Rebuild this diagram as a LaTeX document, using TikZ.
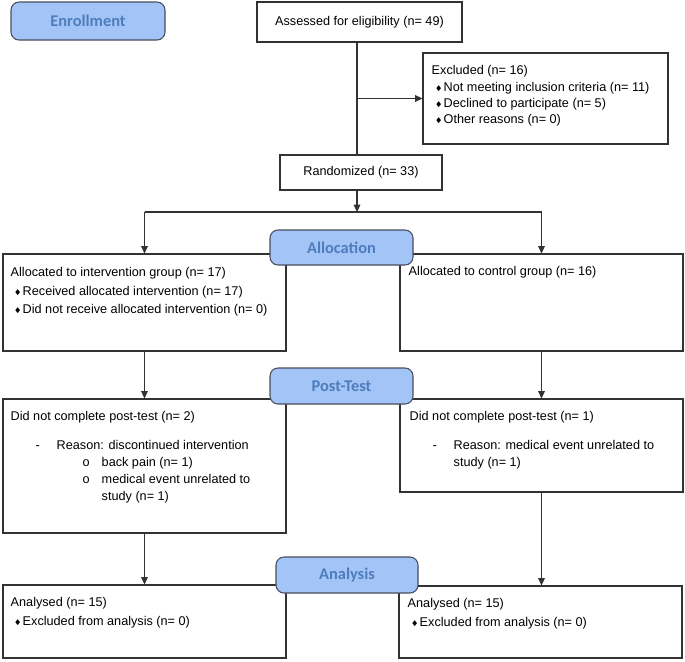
\documentclass[tikz,border=0pt]{standalone}
\usepackage{amssymb}
\usepackage{fontspec}
\setmainfont{Liberation Sans}
\newfontfamily\stagefont{Carlito}
\usetikzlibrary{arrows.meta,positioning,calc,fit}
\definecolor{stagefill}{RGB}{163,196,247}
\definecolor{stagetext}{RGB}{79,125,188}
\definecolor{stageedge}{RGB}{72,78,92}
\definecolor{boxedge}{RGB}{50,50,50}
\newcommand{\dia}{\raisebox{0.8pt}{\fontsize{5}{5}\selectfont$\blacklozenge$}}
\newcommand{\itm}[1]{\hspace*{3pt}\makebox[6pt][l]{\dia}#1}

\begin{document}
\begin{tikzpicture}[x=0.75pt, y=-0.75pt,
    box/.style={draw=boxedge, line width=0.8pt, inner sep=0pt,
                font=\fontsize{9.5}{13}\selectfont},
    stage/.style={draw=stageedge, fill=stagefill, rounded corners=6pt,
                  line width=0.8pt, inner sep=0pt, text=stagetext,
                  font=\stagefont\bfseries\fontsize{12.3}{14}\selectfont},
    txt/.style={anchor=north west, align=left, inner sep=0pt,
                font=\fontsize{9.5}{13.9}\selectfont},
    link/.style={draw=boxedge, line width=0.8pt},
    arr/.style={link, -{Triangle[length=5.5pt,width=5pt]}}]
    \useasboundingbox (0,0) rectangle (685,661);
    % boxes
    \node[box, minimum width=153.75pt, minimum height=30pt] (assess)
        at (359.5,22) {Assessed for eligibility (n= 49)};
    \node[box, fit={(423,53) (668,144)}] (excl) {};
    \node[box, minimum width=121.5pt, minimum height=26.25pt] (rand)
        at (361,172.5) {Randomized (n= 33)};
    \node[box, fit={(3,254) (286,351)}] (int) {};
    \node[box, fit={(400,254) (683,351)}] (ctl) {};
    \node[box, fit={(3,399) (286,533)}] (postL) {};
    \node[box, fit={(400,399) (683,492)}] (postR) {};
    \node[box, fit={(3,585) (286,658)}] (anaL) {};
    \node[box, fit={(399,586) (682,658)}] (anaR) {};
    % box texts
    \node[txt, font=\fontsize{9.5}{12.25}\selectfont] (exclT)
        at ($(excl.north west)+(9,13)$)
        {Excluded (n= 16)\\
         \itm{Not meeting inclusion criteria (n= 11)}\\
         \itm{Declined to participate (n= 5)}\\
         \itm{Other reasons (n= 0)}};
    \node[txt] (intT) at ($(int.north west)+(8,14)$)
        {Allocated to intervention group (n= 17)\\
         \itm{Received allocated intervention (n= 17)}\\
         \itm{Did not receive allocated intervention (n= 0)}};
    \node[txt] (ctlT) at ($(ctl.north west)+(9,13)$)
        {Allocated to control group (n= 16)};
    \node[txt, font=\fontsize{9.5}{12.75}\selectfont] (postLT)
        at ($(postL.north west)+(8,13)$)
        {Did not complete post-test (n= 2)\\[9pt]
         \hspace*{18.75pt}\makebox[15.75pt][l]{-}Reason: discontinued intervention\\
         \hspace*{54pt}\makebox[14.25pt][l]{o}back pain (n= 1)\\
         \hspace*{54pt}\makebox[14.25pt][l]{o}medical event unrelated to\\
         \hspace*{68.25pt}study (n= 1)};
    \node[txt, font=\fontsize{9.5}{12.75}\selectfont] (postRT)
        at ($(postR.north west)+(10,13)$)
        {Did not complete post-test (n= 1)\\[9pt]
         \hspace*{17.25pt}\makebox[15.75pt][l]{-}Reason: medical event unrelated to\\
         \hspace*{33pt}study (n= 1)};
    \node[txt] (anaLT) at ($(anaL.north west)+(8,13)$)
        {Analysed (n= 15)\\
         \itm{Excluded from analysis (n= 0)}};
    \node[txt] (anaRT) at ($(anaR.north west)+(9,13)$)
        {Analysed (n= 15)\\
         \itm{Excluded from analysis (n= 0)}};
    % connectors
    \coordinate (trunk) at (357,0);
    \coordinate (split) at (357,212);
    \draw[link] (assess.south -| trunk) -- (rand.north -| trunk);
    \draw[arr] (excl.west -| trunk) -- (excl.west);
    \draw[arr] (rand.south -| trunk) -- (split);
    \draw[link] (int.north |- split) -- (ctl.north |- split);
    \draw[arr] (int.north |- split) -- (int.north);
    \draw[arr] (ctl.north |- split) -- (ctl.north);
    \draw[arr] (int.south) -- (postL.north);
    \draw[arr] (ctl.south) -- (postR.north);
    \draw[arr] (postL.south) -- (anaL.north);
    \draw[arr] (postR.south) -- (postR.south |- anaR.north);
    % stage labels
    \node[stage, minimum width=115.5pt, minimum height=28.5pt] (enroll)
        at (88,21) {Enrollment};
    \node[stage, minimum width=107.25pt, minimum height=26.25pt] (alloc)
        at (341.5,247.5) {Allocation};
    \node[stage, minimum width=107.25pt, minimum height=27pt] (post)
        at (341.5,386) {Post-Test};
    \node[stage, minimum width=106.5pt, minimum height=27pt] (anal)
        at (347,575) {Analysis};
\end{tikzpicture}
\end{document}
